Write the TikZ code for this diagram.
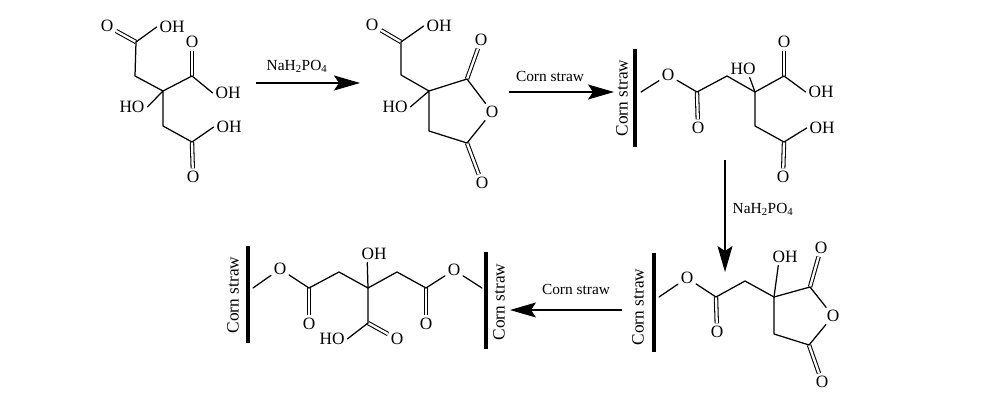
\documentclass[tikz,border=0pt]{standalone}
\usepackage{fontspec}
\setmainfont{Liberation Serif}
\usetikzlibrary{arrows.meta,calc}
\tikzset{
  atom/.style={inner sep=2.6pt,font=\fontsize{17.3}{18}\selectfont},
  small/.style={inner sep=0pt,font=\fontsize{15.4}{18}\selectfont},
  straw/.style={inner sep=0pt,rotate=90,font=\fontsize{17.3}{18}\selectfont},
  bond/.style={line width=1.25pt,line cap=round,line join=round},
  dbl/.style={double,double distance=2.3pt,line width=1.05pt},
  bar/.style={line width=4.4pt},
  react/.style={line width=1.1pt,-{Stealth[length=26pt,width=15pt,inset=5pt]}}
}
\begin{document}
\begin{tikzpicture}[x=1pt,y=-1pt]
\useasboundingbox (0,0) rectangle (1000,406);
% --- molecule 1
\node[atom] (aO1) at (107,26) {O};
\node[atom] (aOH1) at (172,27) {OH};
\coordinate (aC1) at (136,42);
\coordinate (aM1) at (135,76);
\coordinate (aX) at (163,91);
\coordinate (aC2) at (192,76);
\node[atom] (aO2) at (192,42) {O};
\node[atom] (aOH2) at (228,93) {OH};
\node[atom] (aHO) at (132,107) {HO};
\coordinate (aM2) at (163,126);
\coordinate (aC3) at (192,142);
\node[atom] (aOH3) at (229,127) {OH};
\node[atom] (aO3) at (193,177) {O};
\draw[dbl] (aC1) -- (aO1);
\draw[dbl] (aC2) -- (aO2);
\draw[dbl] (aC3) -- (aO3);
\draw[bond] (aOH1.west) -- (aC1) -- (aM1) -- (aX) -- (aC2) -- (aOH2.west);
\draw[bond] (aHO.east) -- (aX) -- (aM2) -- (aC3) -- (aOH3.west);
% --- arrow 1
\coordinate (r1s) at (256,83);
\coordinate (r1e) at (360,83);
\draw[react] (r1s) -- (r1e);
\node[small] (r1t) at (297,66) {NaH\textsubscript{2}PO\textsubscript{4}};
% --- molecule 2
\node[atom] (bO1) at (372,25) {O};
\node[atom] (bOH1) at (439,26) {OH};
\coordinate (bC1) at (401,42);
\coordinate (bM1) at (401,75);
\coordinate (bX) at (429,91);
\coordinate (bC2) at (467,79);
\node[atom] (bO2) at (481,40) {O};
\node[atom] (bOr) at (492,112) {O};
\coordinate (bC3) at (467,143);
\node[atom] (bO3) at (482,183) {O};
\coordinate (bM2) at (429,131);
\node[atom] (bHO) at (395,107) {HO};
\draw[dbl] (bC1) -- (bO1);
\draw[dbl] (bC2) -- (bO2);
\draw[dbl] (bC3) -- (bO3);
\draw[bond] (bOH1.west) -- (bC1) -- (bM1) -- (bX) -- (bC2) -- (bOr) -- (bC3) -- (bM2) -- (bX) -- (bHO.east);
% --- arrow 2
\coordinate (r2s) at (509,92);
\coordinate (r2e) at (614,92);
\draw[react] (r2s) -- (r2e);
\node[small] (r2t) at (550,76) {Corn straw};
% --- molecule 3
\coordinate (c1) at (635,49);
\coordinate (c2) at (635,147);
\draw[bar] (c1) -- (c2);
\node[straw] (cS) at (622,98) {Corn straw};
\coordinate (cF) at (641,92);
\node[atom] (cO) at (668,75) {O};
\coordinate (cC1) at (697,92);
\node[atom] (cO1) at (698,128) {O};
\coordinate (cM1) at (727,76);
\coordinate (cX) at (755,92);
\node[atom] (cHO) at (743,69) {HO};
\coordinate (cC2) at (784,76);
\node[atom] (cO2) at (784,42) {O};
\node[atom] (cOH2) at (821,92) {OH};
\coordinate (cM2) at (755,126);
\coordinate (cC3) at (784,142);
\node[atom] (cOH3) at (822,128) {OH};
\node[atom] (cO3) at (783,177) {O};
\draw[dbl] (cC1) -- (cO1);
\draw[dbl] (cC2) -- (cO2);
\draw[dbl] (cC3) -- (cO3);
\draw[bond] (cF) -- (cO) -- (cC1) -- (cM1) -- (cX) -- (cC2) -- (cOH2.west);
\draw[bond] (cX) -- (cM2) -- (cC3) -- (cOH3.west);
\draw[bond] (cX) -- ($(cHO.south west)!.72!(cHO.south east)$);
% --- arrow 3
\coordinate (r3s) at (725,160);
\coordinate (r3e) at (725,272);
\draw[react] (r3s) -- (r3e);
\node[small] (r3t) at (763,209) {NaH\textsubscript{2}PO\textsubscript{4}};
% --- molecule 4
\coordinate (d1) at (654,253);
\coordinate (d2) at (654,352);
\draw[bar] (d1) -- (d2);
\node[straw] (dS) at (638,307) {Corn straw};
\coordinate (dF) at (659,297);
\node[atom] (dO) at (687,278) {O};
\coordinate (dC1) at (716,297);
\node[atom] (dO1) at (717,332) {O};
\coordinate (dM1) at (745,281);
\coordinate (dX) at (774,297);
\node[atom] (dOH) at (785,257) {OH};
\coordinate (dC2) at (810,287);
\node[atom] (dO2) at (821,248) {O};
\node[atom] (dOr) at (833,316) {O};
\coordinate (dC3) at (809,345);
\node[atom] (dO3) at (822,382) {O};
\coordinate (dM2) at (774,334);
\draw[dbl] (dC1) -- (dO1);
\draw[dbl] (dC2) -- (dO2);
\draw[dbl] (dC3) -- (dO3);
\draw[bond] (dF) -- (dO) -- (dC1) -- (dM1) -- (dX) -- (dC2) -- (dOr) -- (dC3) -- (dM2) -- (dX);
\draw[bond] (dX) -- ($(dOH.south west)!.28!(dOH.south east)$);
% --- arrow 4
\coordinate (r4s) at (622,310);
\coordinate (r4e) at (510,310);
\draw[react] (r4s) -- (r4e);
\node[small] (r4t) at (576,289) {Corn straw};
% --- molecule 5
\coordinate (e1) at (248,246);
\coordinate (e2) at (248,343);
\draw[bar] (e1) -- (e2);
\node[straw] (eS1) at (233,295) {Corn straw};
\coordinate (eF1) at (253,288);
\node[atom] (eO1) at (280,269) {O};
\coordinate (eC1) at (309,288);
\node[atom] (eO2) at (309,324) {O};
\coordinate (eM1) at (339,272);
\coordinate (eX) at (368,288);
\node[atom] (eOH) at (374,254) {OH};
\coordinate (eC2) at (368,323);
\node[atom] (eHO) at (332,339) {HO};
\node[atom] (eO3) at (397,339) {O};
\coordinate (eM2) at (397,272);
\coordinate (eC3) at (426,288);
\node[atom] (eO4) at (426,324) {O};
\node[atom] (eO5) at (454,270) {O};
\coordinate (eF2) at (482,288);
\coordinate (e3) at (486,252);
\coordinate (e4) at (486,349);
\draw[bar] (e3) -- (e4);
\node[straw] (eS2) at (499,302) {Corn straw};
\draw[dbl] (eC1) -- (eO2);
\draw[dbl] (eC2) -- (eO3);
\draw[dbl] (eC3) -- (eO4);
\draw[bond] (eF1) -- (eO1) -- (eC1) -- (eM1) -- (eX) -- (eM2) -- (eC3) -- (eO5) -- (eF2);
\draw[bond] (eX) -- (eC2) -- (eHO.east);
\draw[bond] (eX) -- ($(eOH.south west)!.28!(eOH.south east)$);
\end{tikzpicture}
\end{document}
